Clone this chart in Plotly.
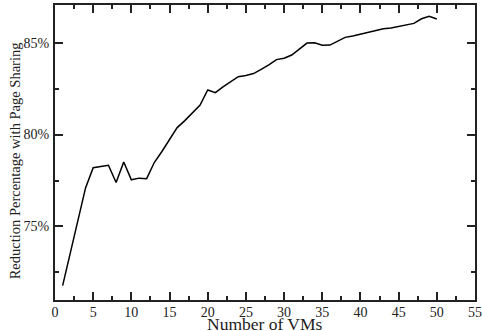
import plotly.graph_objects as go

vms = list(range(1, 51))
reduction_pct = [71.78, 73.55, 75.5, 77.1, 78.2, 78.28, 78.33, 77.39, 78.51, 77.54,
                 77.63, 77.6, 78.48, 79.08, 79.75, 80.38, 80.76, 81.2, 81.61, 82.43,
                 82.28, 82.6, 82.9, 83.15, 83.22, 83.32, 83.55, 83.79, 84.08, 84.15,
                 84.33, 84.64, 84.98, 85.0, 84.86, 84.87, 85.07, 85.29, 85.36, 85.45,
                 85.54, 85.65, 85.76, 85.8, 85.87, 85.96, 86.05, 86.3, 86.43, 86.29]
x_tick_step = 5
y_tick_step = 5
x_title = "Number of VMs"
y_title = "Reduction Percentage with Page Sharing"

fig = go.Figure()
fig.add_trace(go.Scatter(x=vms, y=reduction_pct, mode="lines",
                         line=dict(color="black", width=1.5), hoverinfo="skip"))

font = "Liberation Serif, Times New Roman, serif"
INK = "#222"


def axis(**kw):
    d = dict(showline=True, linecolor=INK, linewidth=2, mirror="allticks",
             ticks="inside", ticklen=8, tickwidth=1.5, tickcolor=INK,
             showgrid=False, zeroline=False, automargin=False,
             tickfont=dict(family=font, size=14, color=INK))
    d.update(kw)
    return d


fig.update_layout(
    width=482, height=331,
    margin=dict(l=55, r=7, t=5, b=31),
    paper_bgcolor="white", plot_bgcolor="white",
    showlegend=False,
    xaxis=axis(range=[0, 55], tickmode="linear", tick0=0, dtick=x_tick_step,
               minor=dict(ticks="inside", ticklen=4, tick0=0, dtick=x_tick_step / 2,
                          tickcolor=INK, tickwidth=1.5, showgrid=False),
               ticklabelstandoff=-2),
    yaxis=axis(range=[71.0, 87.05], tickmode="linear", tick0=75, dtick=y_tick_step,
               ticksuffix="%",
               minor=dict(ticks="inside", ticklen=4, tick0=75, dtick=y_tick_step / 2,
                          tickcolor=INK, tickwidth=1.5, showgrid=False),
               ticklabelstandoff=1),
    annotations=[
        dict(text=x_title, xref="paper", yref="paper", x=0.5, y=0, yshift=-24,
             xanchor="center", yanchor="middle", showarrow=False,
             font=dict(family=font, size=17.5, color=INK)),
        dict(text=y_title, xref="paper", yref="paper", x=0, y=0.47, xshift=-40,
             xanchor="center", yanchor="middle", textangle=-90, showarrow=False,
             font=dict(family=font, size=14.5, color=INK)),
    ],
)
fig.write_html("out.html", config={"displayModeBar": False},
               post_script="document.body.style.margin='0';")
